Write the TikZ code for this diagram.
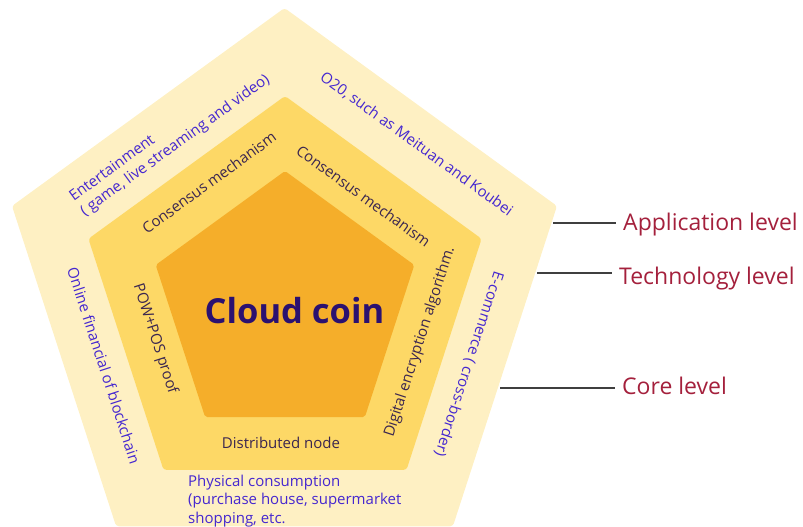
\documentclass[tikz,border=0pt]{standalone}
\usepackage{fontspec}
\setmainfont{Open Sans}
\definecolor{outerc}{HTML}{FEF0C3}
\definecolor{midc}{HTML}{FDD866}
\definecolor{innerc}{HTML}{F5AE2A}
\definecolor{apptxt}{HTML}{4527D0}
\definecolor{techtxt}{HTML}{3B2650}
\definecolor{coretxt}{HTML}{2B1170}
\definecolor{lvltxt}{HTML}{A4203C}
\definecolor{lvlline}{HTML}{3F3F3F}
\begin{document}
\begin{tikzpicture}[x=1pt,y=-1pt,
  apptext/.style={inner sep=0pt, text=apptxt, font=\fontsize{15}{18.5}\selectfont},
  techtext/.style={inner sep=0pt, text=techtxt, font=\fontsize{15}{18.5}\selectfont},
  lvl/.style={anchor=base west, inner sep=0pt, text=lvltxt, font=\fontsize{23}{27}\selectfont},
  lvlconn/.style={draw=lvlline, line width=2pt, shorten >=7pt}]
\useasboundingbox (0,0) rectangle (803,527);
% pentagons
\fill[outerc, rounded corners=3pt] (284.5,8) -- (557,206) -- (452.9,526.3) -- (116.1,526.3) -- (12,206) -- cycle;
\fill[midc, rounded corners=3pt] (285,96) -- (481.6,238.8) -- (406.5,469.9) -- (163.5,469.9) -- (88.4,238.8) -- cycle;
\fill[innerc, rounded corners=2pt] (285,171) -- (414.3,265) -- (364.9,417) -- (205.1,417) -- (155.7,265) -- cycle;
% core
\node[inner sep=0pt, anchor=base, text=coretxt, font=\fontsize{34.5}{40}\selectfont\bfseries] (coin) at (294.5,323) {Cloud coin};
% technology level texts
\node[techtext, rotate=36] (cons1) at (209,182.5) {Consensus mechanism};
\node[techtext, rotate=-36] (cons2) at (363.5,196) {Consensus mechanism};
\node[techtext, rotate=-72] (pow) at (155,339) {POW+POS proof};
\node[techtext, rotate=72] (dig) at (420,342) {Digital encryption algorithm.};
\node[techtext, anchor=base] (dist) at (281,448) {Distributed node};
% application level texts
\node[apptext, rotate=36, align=left] (ent) at (170,138.5) {Entertainment\\( game, live streaming and video)};
\node[apptext, rotate=-36] (o2o) at (416.5,144) {O20, such as Meituan and Koubei};
\node[apptext, rotate=-72] (fin) at (104,365.5) {Online financial of blockchain};
\node[apptext, rotate=-108] (ecom) at (469,364) {E-commerce ( cross-border)};
\node[apptext, anchor=north west, align=left] (phys) at (188,474.5) {Physical consumption\\(purchase house, supermarket\\shopping, etc.};
% level labels
\node[lvl] (app) at (623,230) {Application level};
\node[lvl] (tech) at (619,284) {Technology level};
\node[lvl] (core) at (622,394) {Core level};
\coordinate (appS) at (553,223);
\coordinate (techS) at (537,273);
\coordinate (coreS) at (500,388);
\draw[lvlconn] (appS) -- (appS -| app.west);
\draw[lvlconn] (techS) -- (techS -| tech.west);
\draw[lvlconn] (coreS) -- (coreS -| core.west);
\end{tikzpicture}
\end{document}
